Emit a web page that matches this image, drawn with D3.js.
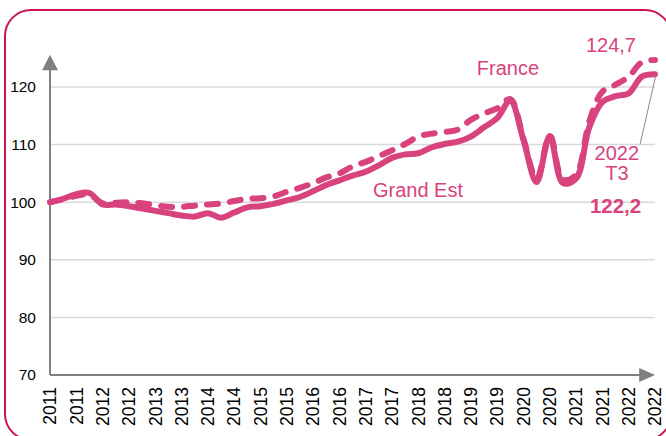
<!DOCTYPE html>
<html>
<head>
<meta charset="utf-8">
<script src="https://cdn.jsdelivr.net/npm/d3@7"></script>
<style>
  html, body { margin: 0; padding: 0; background: #fff; }
  svg { display: block; font-family: "Liberation Sans", Arial, sans-serif; }
</style>
</head>
<body>
<svg id="chart" width="666" height="436"></svg>
<script>
// ---- data ----
const quarters = [
  "2011T1","2011T2","2011T3","2011T4","2012T1","2012T2","2012T3","2012T4",
  "2013T1","2013T2","2013T3","2013T4","2014T1","2014T2","2014T3","2014T4",
  "2015T1","2015T2","2015T3","2015T4","2016T1","2016T2","2016T3","2016T4",
  "2017T1","2017T2","2017T3","2017T4","2018T1","2018T2","2018T3","2018T4",
  "2019T1","2019T2","2019T3","2019T4","2020T1","2020T2","2020T3","2020T4",
  "2021T1","2021T2","2021T3","2021T4","2022T1","2022T2","2022T3"
];
const grandEst = [
  100.0, 100.6, 101.4, 101.6, 99.6, 99.6, 99.3, 98.9,
  98.5, 98.1, 97.7, 97.5, 98.1, 97.3, 98.2, 99.1,
  99.3, 99.7, 100.3, 100.9, 101.9, 103.0, 103.8, 104.6,
  105.3, 106.4, 107.7, 108.3, 108.5, 109.5, 110.1, 110.5,
  111.4, 113.0, 114.6, 117.6, 110.8, 103.5, 111.5, 103.3,
  104.1, 113.0, 117.4, 118.4, 118.9, 121.8, 122.2
];
const france = [
  100.0, 100.5, 101.1, 101.3, 99.8, 99.9, 100.0, 99.8,
  99.5, 99.2, 99.2, 99.4, 99.6, 99.8, 100.2, 100.6,
  100.7, 101.0, 101.8, 102.5, 103.3, 104.3, 105.0, 106.2,
  107.0, 108.0, 109.0, 110.1, 111.4, 111.9, 112.2, 112.6,
  114.3, 115.4, 116.3, 117.9, 111.0, 104.0, 111.6, 103.9,
  104.8, 114.0, 119.2, 120.4, 121.8, 124.3, 124.7
];
const xTickLabels = [
  "2011","2011","2012","2012","2013","2013","2014","2014","2015","2015","2016","2016",
  "2017","2017","2018","2018","2019","2019","2020","2020","2021","2021","2022","2022"
];
const yTicks = [70, 80, 90, 100, 110, 120];
const annotations = [
  { text: "France",    i: 34.82, v: 122.08, bold: false },
  { text: "Grand Est", i: 27.98, v: 100.9,  bold: false },
  { text: "124,7",     i: 42.65, v: 126.08, bold: false },
  { text: "2022",      i: 43.1,  v: 107.4,  bold: false },
  { text: "T3",        i: 43.1,  v: 103.85, bold: false },
  { text: "122,2",     i: 43.0,  v: 98.1,   bold: true }
];

// ---- drawing ----
const pink = "#d8437d";
const svg = d3.select("#chart");

svg.append("rect")
  .attr("x", 5).attr("y", 10).attr("width", 666).attr("height", 430)
  .attr("rx", 26).attr("ry", 26)
  .attr("fill", "none").attr("stroke", "#cc1452").attr("stroke-width", 2);

const x = d3.scaleLinear().domain([0, quarters.length - 1]).range([50, 655]);
const y = d3.scaleLinear().domain([70, 120]).range([375, 87]);

// grid lines
svg.append("g").selectAll("line").data(yTicks.filter(d => d > 70)).join("line")
  .attr("x1", x(0)).attr("x2", x(quarters.length - 1))
  .attr("y1", d => y(d)).attr("y2", d => y(d))
  .attr("stroke", "#d9d9d9").attr("stroke-width", 1.5);

// y tick labels
svg.append("g").selectAll("text").data(yTicks).join("text")
  .attr("x", 36).attr("y", d => y(d)).attr("dy", "0.35em")
  .attr("text-anchor", "end").attr("font-size", 15.5).attr("fill", "#000")
  .text(d => d);

// x tick labels (rotated)
svg.append("g").selectAll("text").data(xTickLabels).join("text")
  .attr("transform", (d, k) => `translate(${x(k * 2)},${y(70) + 12}) rotate(-90)`)
  .attr("dy", "0.36em")
  .attr("text-anchor", "end").attr("font-size", 17.5).attr("fill", "#000")
  .text(d => d);

// axes with arrows
const axisColor = "#808080";
svg.append("line")
  .attr("x1", x(0)).attr("x2", x(0)).attr("y1", y(70)).attr("y2", y(124.5))
  .attr("stroke", axisColor).attr("stroke-width", 2);
svg.append("path")
  .attr("d", `M${x(0)},${y(125.6)} L${x(0) - 8},${y(122.9)} L${x(0) + 8},${y(122.9)} Z`)
  .attr("fill", axisColor);
svg.append("line")
  .attr("x1", x(0)).attr("x2", x(45)).attr("y1", y(70)).attr("y2", y(70))
  .attr("stroke", axisColor).attr("stroke-width", 2);
svg.append("path")
  .attr("d", `M${x(46)},${y(70)} L${x(44.8)},${y(70) - 7} L${x(44.8)},${y(70) + 7} Z`)
  .attr("fill", axisColor);

// lines
const line = d3.line()
  .x((d, k) => x(k)).y(d => y(d))
  .curve(d3.curveCatmullRom.alpha(0.5));

svg.append("path").datum(france)
  .attr("d", line).attr("fill", "none")
  .attr("stroke", pink).attr("stroke-width", 6)
  .attr("stroke-linecap", "round").attr("stroke-linejoin", "round")
  .attr("stroke-dasharray", "11,12");

svg.append("path").datum(grandEst)
  .attr("d", line).attr("fill", "none")
  .attr("stroke", pink).attr("stroke-width", 6)
  .attr("stroke-linecap", "round").attr("stroke-linejoin", "round");

// leader line
svg.append("line")
  .attr("x1", x(46.08)).attr("y1", y(122.2))
  .attr("x2", x(44.86)).attr("y2", y(110))
  .attr("stroke", "#8c8c8c").attr("stroke-width", 1);

// annotations
svg.append("g").selectAll("text").data(annotations).join("text")
  .attr("x", d => x(d.i)).attr("y", d => y(d.v))
  .attr("text-anchor", "middle")
  .attr("font-size", d => d.bold ? 20.5 : 20)
  .attr("font-weight", d => d.bold ? "bold" : "normal")
  .attr("fill", pink)
  .text(d => d.text);
</script>
</body>
</html>
